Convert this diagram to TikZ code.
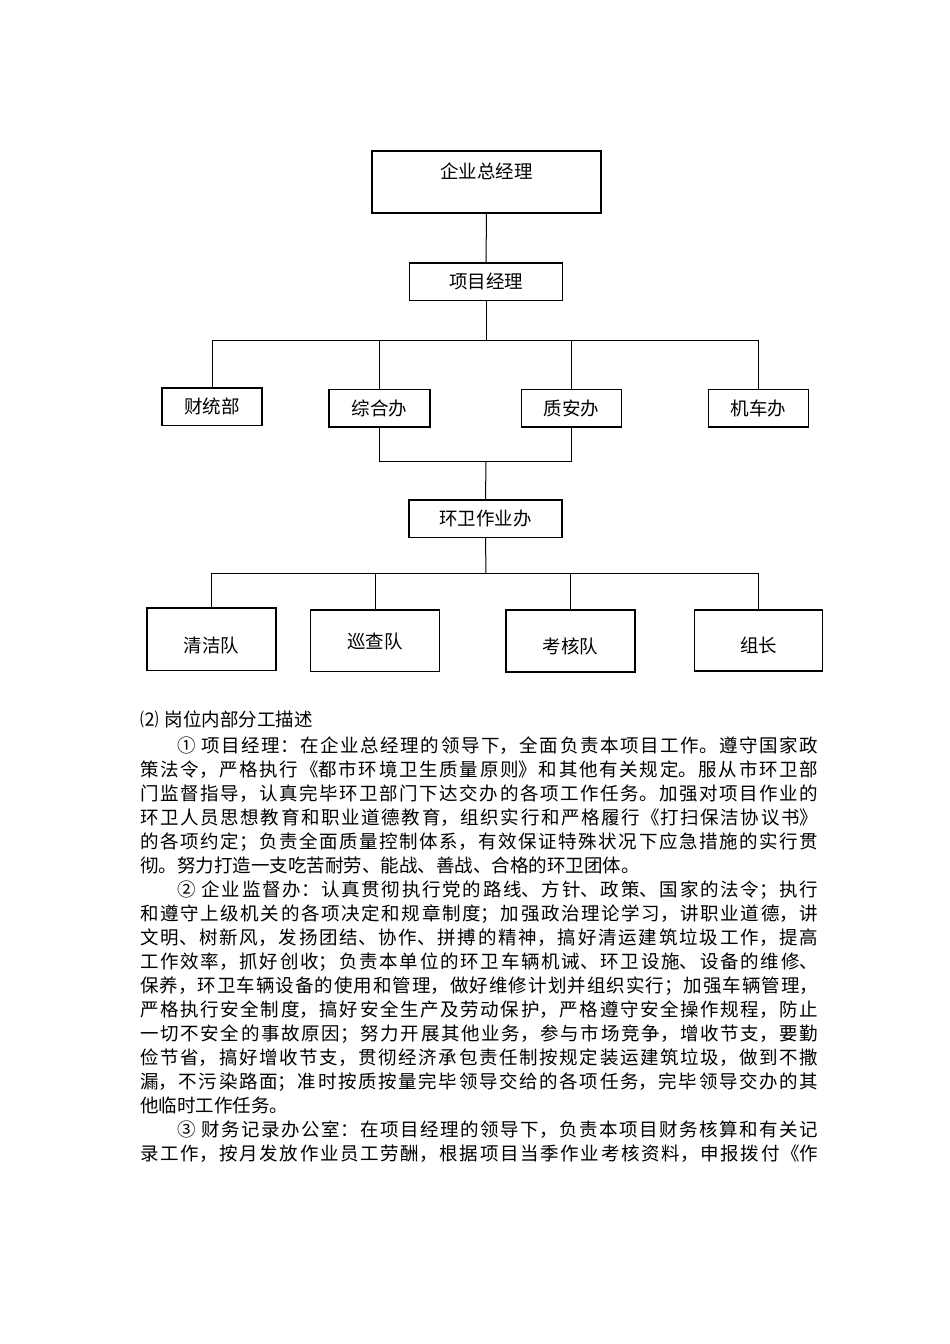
\documentclass[tikz,border=0pt]{standalone}
\usepackage{fontspec}
\setmainfont{Noto Sans CJK SC}
\XeTeXlinebreaklocale "zh"
\XeTeXlinebreakskip=0pt plus 2pt
\begin{document}
\begin{tikzpicture}[x=1pt,y=-1pt,
  box/.style={draw, line width=1.1pt, inner sep=0pt, font=\fontsize{18.5}{20}\selectfont},
  conn/.style={line width=1pt},
  bodytext/.style={inner sep=0pt, font=\fontsize{18.5}{24}\selectfont}]
\useasboundingbox (0,0) rectangle (950,1344);
\fill[white] (0,0) rectangle (950,1344);
% chart
\node[box, minimum width=229pt, minimum height=62pt, text height=27pt, text depth=35pt] (gm) at (486.5,182) {企业总经理};
\node[box, minimum width=153pt, minimum height=37.5pt] (pm) at (486,281.75) {项目经理};
\node[box, minimum width=100pt, minimum height=37.5pt] (cw) at (212,406.75) {财统部};
\node[box, minimum width=101pt, minimum height=37.5pt] (zh) at (379.5,408.25) {综合办};
\node[box, minimum width=100.5pt, minimum height=37.5pt] (za) at (571.5,408.25) {质安办};
\node[box, minimum width=100pt, minimum height=37.5pt] (jc) at (758.5,408.25) {机车办};
\node[box, minimum width=153pt, minimum height=37.5pt] (hw) at (485.5,518.75) {环卫作业办};
\node[box, minimum width=129pt, minimum height=62.5pt, text height=44pt, text depth=18.5pt] (qj) at (211.5,639.25) {清洁队};
\node[box, minimum width=128.5pt, minimum height=61.5pt, text height=38pt, text depth=23.5pt] (xc) at (375,640.75) {巡查队};
\node[box, minimum width=129pt, minimum height=62pt, text height=43pt, text depth=19pt] (kh) at (570.5,641) {考核队};
\node[box, minimum width=128.5pt, minimum height=61pt, text height=42pt, text depth=19pt] (zz) at (758.5,640.5) {组长};
\coordinate (b1) at (486,340);
\coordinate (b2) at (486,461.7);
\coordinate (b3) at (486,573.7);
\draw[conn] (gm.south) -- (pm.north);
\draw[conn] (pm.south) -- (b1);
\draw[conn] (cw.north) -- (cw.north |- b1) -- (jc.north |- b1) -- (jc.north);
\draw[conn] (zh.north) -- (zh.north |- b1);
\draw[conn] (za.north) -- (za.north |- b1);
\draw[conn] (zh.south) -- (zh.south |- b2) -- (za.south |- b2) -- (za.south);
\draw[conn] (b2) -- (hw.north);
\draw[conn] (hw.south) -- (b3);
\draw[conn] (qj.north) -- (qj.north |- b3) -- (zz.north |- b3) -- (zz.north);
\draw[conn] (xc.north) -- (xc.north |- b3);
\draw[conn] (kh.north) -- (kh.north |- b3);
% text
\node[bodytext, anchor=base west] (h2) at (140,726) {⑵\hspace{6pt}岗位内部分工描述};
\node[bodytext, anchor=north west, text width=678pt, align=justify] (body) at (140,737) {%
\hspace*{37pt}① 项目经理：在企业总经理的领导下，全面负责本项目工作。遵守国家政\linebreak
策法令，严格执行《都市环境卫生质量原则》和其他有关规定。服从市环卫部\linebreak
门监督指导，认真完毕环卫部门下达交办的各项工作任务。加强对项目作业的\linebreak
环卫人员思想教育和职业道德教育，组织实行和严格履行《打扫保洁协议书》\linebreak
的各项约定；负责全面质量控制体系，有效保证特殊状况下应急措施的实行贯\linebreak
彻。努力打造一支吃苦耐劳、能战、善战、合格的环卫团体。\par
\hspace*{37pt}② 企业监督办：认真贯彻执行党的路线、方针、政策、国家的法令；执行\linebreak
和遵守上级机关的各项决定和规章制度；加强政治理论学习，讲职业道德，讲\linebreak
文明、树新风，发扬团结、协作、拼搏的精神，搞好清运建筑垃圾工作，提高\linebreak
工作效率，抓好创收；负责本单位的环卫车辆机诫、环卫设施、设备的维修、\linebreak
保养，环卫车辆设备的使用和管理，做好维修计划并组织实行；加强车辆管理，\linebreak
严格执行安全制度，搞好安全生产及劳动保护，严格遵守安全操作规程，防止\linebreak
一切不安全的事故原因；努力开展其他业务，参与市场竞争，增收节支，要勤\linebreak
俭节省，搞好增收节支，贯彻经济承包责任制按规定装运建筑垃圾，做到不撒\linebreak
漏，不污染路面；准时按质按量完毕领导交给的各项任务，完毕领导交办的其\linebreak
他临时工作任务。\par
\hspace*{37pt}③ 财务记录办公室：在项目经理的领导下，负责本项目财务核算和有关记\linebreak
录工作，按月发放作业员工劳酬，根据项目当季作业考核资料，申报拨付《作\parfillskip=0pt\par};
\end{tikzpicture}
\end{document}
